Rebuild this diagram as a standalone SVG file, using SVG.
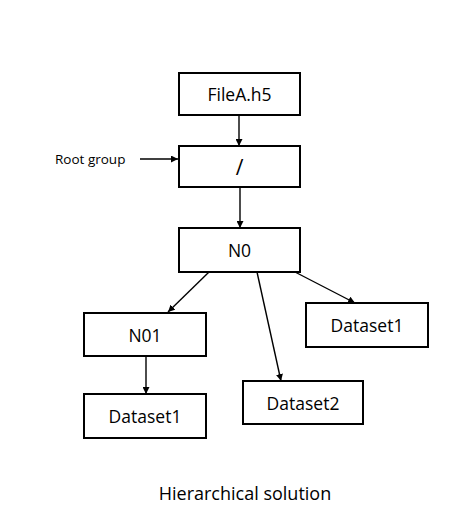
<svg xmlns="http://www.w3.org/2000/svg" width="455" height="530" viewBox="0 0 455 530">
<style>
.box{fill:#fff;stroke:#000;stroke-width:2}
.lbl{font-family:"Open Sans","Noto Sans",sans-serif;font-size:17.5px;fill:#000;text-anchor:middle;dominant-baseline:central}
.edge{stroke:#000;stroke-width:1.4;fill:none;marker-end:url(#ah)}
</style>
<defs>
<marker id="ah" viewBox="0 0 10 10" refX="10" refY="5" markerWidth="7" markerHeight="7" markerUnits="userSpaceOnUse" orient="auto">
<path d="M0,0 L10,5 L0,10 z" fill="#000"/>
</marker>
</defs>
<rect width="455" height="530" fill="#fff"/>
<g id="connectors">
<line class="edge" x1="239" y1="115" x2="239" y2="146"/>
<line class="edge" x1="140" y1="159" x2="178" y2="159"/>
<line class="edge" x1="240" y1="187" x2="240" y2="228"/>
<line class="edge" x1="209" y1="272" x2="168" y2="312"/>
<line class="edge" x1="257" y1="272" x2="281" y2="381"/>
<line class="edge" x1="295" y1="272" x2="355" y2="303"/>
<line class="edge" x1="146" y1="356" x2="146" y2="394"/>
</g>
<g id="fileA"><rect class="box" x="179" y="73" width="121" height="42"/><text class="lbl" x="239.5" y="94">FileA.h5</text></g>
<g id="root"><rect class="box" x="179" y="146" width="121" height="41"/><text class="lbl" x="239.5" y="166.5" style="font-size:21px">/</text></g>
<g id="rootlabel"><text x="55" y="159" style="font-family:'Open Sans','Noto Sans',sans-serif;font-size:13.5px;dominant-baseline:central">Root group</text></g>
<g id="N0"><rect class="box" x="179" y="228" width="121" height="44"/><text class="lbl" x="239.5" y="250">N0</text></g>
<g id="N01"><rect class="box" x="84" y="313" width="122" height="43"/><text class="lbl" x="145" y="334.5">N01</text></g>
<g id="ds1a"><rect class="box" x="84" y="394" width="122" height="44"/><text class="lbl" x="145" y="416">Dataset1</text></g>
<g id="ds2"><rect class="box" x="243" y="381" width="120" height="43"/><text class="lbl" x="303" y="402.5">Dataset2</text></g>
<g id="ds1b"><rect class="box" x="306" y="303" width="122" height="44"/><text class="lbl" x="367" y="325">Dataset1</text></g>
<g id="caption"><text x="245" y="493" style="font-family:'Open Sans','Noto Sans',sans-serif;font-size:18px;text-anchor:middle;dominant-baseline:central">Hierarchical solution</text></g>
</svg>
